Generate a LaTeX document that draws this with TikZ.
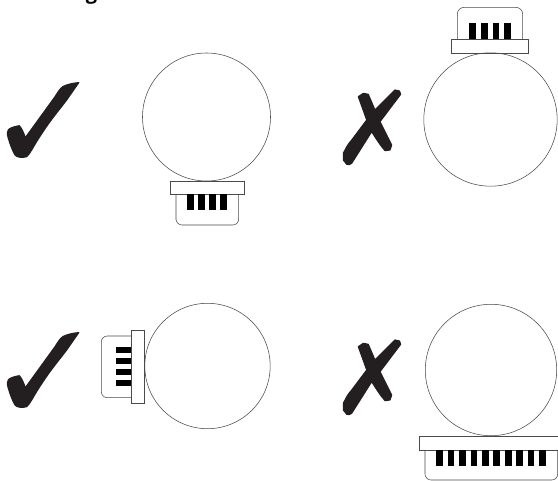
\documentclass[tikz,border=0pt]{standalone}
\usepackage{fontspec}
\setmainfont{Open Sans}
\definecolor{markink}{HTML}{231F20}
\definecolor{lineink}{HTML}{4A4A4A}
\tikzset{
  outline/.style={draw=lineink,line width=0.55pt},
  pin/.style={fill=black,draw=none},
  markfill/.style={fill=markink,draw=markink,line width=1.1pt,line join=round}
}
\newcommand{\tickmark}[1]{%
  \begin{scope}[yshift=#1]
  \path[markfill] (78.8,82.6) .. controls (74,83) and (68,84) .. (63,86.5)
    .. controls (60,88.5) and (58,92) .. (55,96.7)
    -- (25.3,137.7)
    .. controls (23.5,132) and (21.5,128) .. (19.3,125.7)
    .. controls (15,126.3) and (10,128) .. (8.5,129.5)
    .. controls (7,131) and (7,134) .. (8.3,138.3)
    .. controls (10,144) and (12.5,151) .. (15,155)
    .. controls (16.5,157.5) and (23,158) .. (26.7,156.7)
    .. controls (28.5,155.5) and (30,152.5) .. (31.7,150)
    .. controls (38,139) and (44,130) .. (50,121.7)
    .. controls (56,113.5) and (61,107.5) .. (66.7,100)
    -- cycle;
  \end{scope}}
\newcommand{\crossmark}[1]{%
  \begin{scope}[yshift=#1]
  \path[markfill] (358.3,96.7) -- (363.3,93.3) -- (368.3,94.3)
    -- (375,110)
    -- (395,90) -- (399.5,91) -- (400.7,94.3)
    -- (380,121.7)
    -- (391.7,145) -- (390,150) -- (385,150.7)
    .. controls (380,145) and (376,138.5) .. (371.7,131.7)
    -- (351.7,163.3)
    .. controls (350,165) and (348,165) .. (346.7,164.3)
    -- (343.3,160) -- (343.3,153.3)
    .. controls (346,148) and (348,144) .. (351.7,140)
    -- (366.7,120)
    -- cycle;
  \end{scope}}
\begin{document}
\begin{tikzpicture}[x=1pt,y=-1pt]
\useasboundingbox (0,0) rectangle (558,481);
\clip (0,0) rectangle (558,481);
\node[anchor=base,inner sep=0pt,font=\bfseries\fontsize{20}{22}\selectfont] (head) at (91.5,0) {g};
% marks
\tickmark{0pt}
\tickmark{-250pt}
\crossmark{0pt}
\crossmark{-250pt}
% top left
\draw[outline] (206.5,117) circle[radius=64pt];
\draw[outline] (176,194.3) -- (176,220) [rounded corners=6pt] -- (176,225) -- (238.7,225) [sharp corners] -- (238.7,194.3);
\draw[outline] (170.5,181) rectangle (244.3,194.3);
\foreach \x in {187,198,209.3,220.3} \fill[pin] (\x,194.3) rectangle ++(6.8,15.4);
% top right
\draw[outline] (490.5,119.5) circle[radius=66.7pt];
\draw[outline] (457.3,39.3) [rounded corners=7pt] -- (457.3,7.3) -- (522.7,7.3) [sharp corners] -- (522.7,39.3);
\draw[outline] (451.3,39.3) rectangle (528.7,53);
\foreach \x in {469.3,481,492.7,504.3} \fill[pin] (\x,23) rectangle ++(6.7,16.3);
% bottom left
\draw[outline] (207.5,366) circle[radius=62.7pt];
\draw[outline] (131.3,336) [rounded corners=6pt] -- (101.3,336) -- (101.3,397.7) [sharp corners] -- (131.3,397.7);
\draw[outline] (131.3,330.3) rectangle (144.7,403.3);
\foreach \y in {346.7,357.7,368.7,379.7} \fill[pin] (116,\y) rectangle ++(15.3,6.7);
% bottom right
\draw[outline] (491,370) circle[radius=65.7pt];
\draw[outline] (425,450) [rounded corners=6pt] -- (425,480) -- (557.7,480) [sharp corners] -- (557.7,450);
\draw[outline] (419.3,436) rectangle (562,450);
\foreach \i in {0,...,9} \fill[pin] ({436.3+\i*11.42},450) rectangle ++(6.7,15.7);
\end{tikzpicture}
\end{document}
